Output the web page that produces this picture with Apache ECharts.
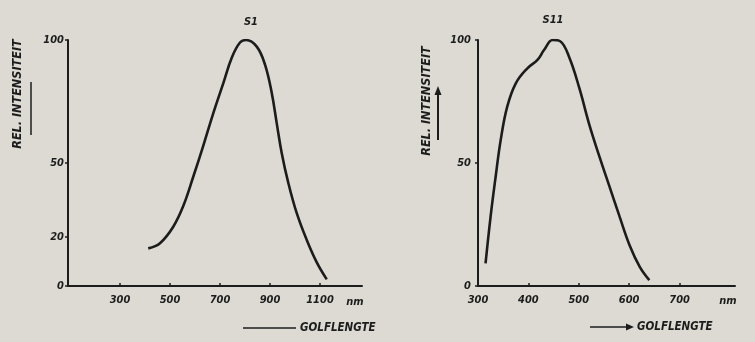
<!DOCTYPE html>
<html>
<head>
<meta charset="utf-8">
<script src="https://cdn.jsdelivr.net/npm/echarts@6/dist/echarts.min.js"></script>
<style>
html,body{margin:0;padding:0;background:#dcdad3;}
#c{width:755px;height:342px;}
</style>
</head>
<body>
<div id="c"></div>
<script>
// ---- data ----
const s1Wavelength = [413, 460, 513, 553, 593, 633, 673, 713, 747, 780, 805, 847, 880, 907, 927, 947, 973, 1007, 1047, 1087, 1127];
const s1Intensity  = [15.3, 17.4, 24.1, 32.5, 44.4, 57, 70.2, 82.4, 92.8, 99, 100, 97.3, 90, 78.5, 66.1, 54, 42, 29.6, 18.7, 9.6, 2.7];
const s11Wavelength = [315, 325, 335, 345, 358, 375, 398, 418, 431, 448, 463, 481, 501, 521, 541, 561, 581, 601, 621, 640];
const s11Intensity  = [9.2, 28.2, 44.4, 59.3, 72.9, 82.4, 88.5, 91.9, 95.9, 100, 99.5, 93, 80.5, 65.5, 52.6, 40.4, 28.2, 16.5, 7.8, 2.4];
const s1XTicks = [300, 500, 700, 900, 1100];
const s11XTicks = [300, 400, 500, 600, 700];
const s1YTicks = [0, 20, 50, 100];
const s11YTicks = [0, 50, 100];
const titles = ['S1', 'S11'];
const yName = 'REL. INTENSITEIT';
const xName = 'GOLFLENGTE';
const unit = 'nm';

const ink = '#1c1c1c';
const font = 'DejaVu Sans Condensed';
const lbl = {color: ink, fontFamily: font, fontStyle: 'italic', fontWeight: 'bold', fontSize: 11};
const gfont = (s) => 'italic bold ' + s + 'px "' + font + '"';

function pts(xs, ys){ return xs.map((x,i)=>[x, ys[i]]); }

function xAxis(idx, min, max, ticks){
  return {
    type: 'value', gridIndex: idx, min: min, max: max,
    axisLine: {show: true, lineStyle: {color: ink, width: 2}},
    axisTick: {show: true, inside: true, length: 3, customValues: ticks, lineStyle: {color: ink, width: 1.5}},
    axisLabel: Object.assign({margin: 9, customValues: ticks, formatter: (v) => String(v)}, lbl),
    splitLine: {show: false}
  };
}
function yAxis(idx, ticks, margin){
  return {
    type: 'value', gridIndex: idx, min: 0, max: 100,
    axisLine: {show: true, lineStyle: {color: ink, width: 2}},
    axisTick: {show: true, length: 3, customValues: ticks, lineStyle: {color: ink, width: 1.5}},
    axisLabel: Object.assign({margin: margin, customValues: ticks, formatter: (v) => String(v)}, lbl),
    splitLine: {show: false}
  };
}

const chart = echarts.init(document.getElementById('c'), null, {renderer: 'canvas'});
chart.setOption({
  backgroundColor: '#dcdad3',
  animation: false,
  title: [
    {text: titles[0], left: 246, top: 12, textAlign: 'center', textStyle: Object.assign({}, lbl, {fontSize: 11})},
    {text: titles[1], left: 548, top: 10, textAlign: 'center', textStyle: Object.assign({}, lbl, {fontSize: 11})}
  ],
  grid: [
    {left: 68, top: 40, width: 294, height: 246},
    {left: 478, top: 40, width: 257, height: 246}
  ],
  xAxis: [xAxis(0, 92, 1268, s1XTicks), xAxis(1, 300, 810, s11XTicks)],
  yAxis: [yAxis(0, s1YTicks, 4), yAxis(1, s11YTicks, 7)],
  series: [
    {type: 'line', xAxisIndex: 0, yAxisIndex: 0, data: pts(s1Wavelength, s1Intensity), smooth: 0.4, showSymbol: false, lineStyle: {color: ink, width: 2.6}},
    {type: 'line', xAxisIndex: 1, yAxisIndex: 1, data: pts(s11Wavelength, s11Intensity), smooth: 0.4, showSymbol: false, lineStyle: {color: ink, width: 2.6}}
  ],
  graphic: [
    {type: 'text', x: 18, y: 94, rotation: Math.PI/2, style: {text: yName, align: 'center', verticalAlign: 'middle', fill: ink, font: gfont(12.5)}},
    {type: 'line', shape: {x1: 31, y1: 82, x2: 31, y2: 135}, style: {stroke: ink, lineWidth: 1.5}},
    {type: 'text', x: 427, y: 101, rotation: Math.PI/2, style: {text: yName, align: 'center', verticalAlign: 'middle', fill: ink, font: gfont(12.5)}},
    {type: 'line', shape: {x1: 438, y1: 140, x2: 438, y2: 93}, style: {stroke: ink, lineWidth: 2}},
    {type: 'polygon', shape: {points: [[434.5, 95], [441.5, 95], [438, 86]]}, style: {fill: ink}},
    {type: 'text', x: 355, y: 302, style: {text: unit, align: 'center', verticalAlign: 'middle', fill: ink, font: gfont(11)}},
    {type: 'text', x: 728, y: 301, style: {text: unit, align: 'center', verticalAlign: 'middle', fill: ink, font: gfont(11)}},
    {type: 'line', shape: {x1: 243, y1: 328, x2: 296, y2: 328}, style: {stroke: ink, lineWidth: 1.3}},
    {type: 'text', x: 300, y: 328, style: {text: xName, align: 'left', verticalAlign: 'middle', fill: ink, font: gfont(11.5)}},
    {type: 'line', shape: {x1: 590, y1: 327, x2: 628, y2: 327}, style: {stroke: ink, lineWidth: 1.3}},
    {type: 'polygon', shape: {points: [[626, 323.5], [626, 330.5], [634, 327]]}, style: {fill: ink}},
    {type: 'text', x: 637, y: 327, style: {text: xName, align: 'left', verticalAlign: 'middle', fill: ink, font: gfont(11.5)}}
  ]
});
</script>
</body>
</html>
